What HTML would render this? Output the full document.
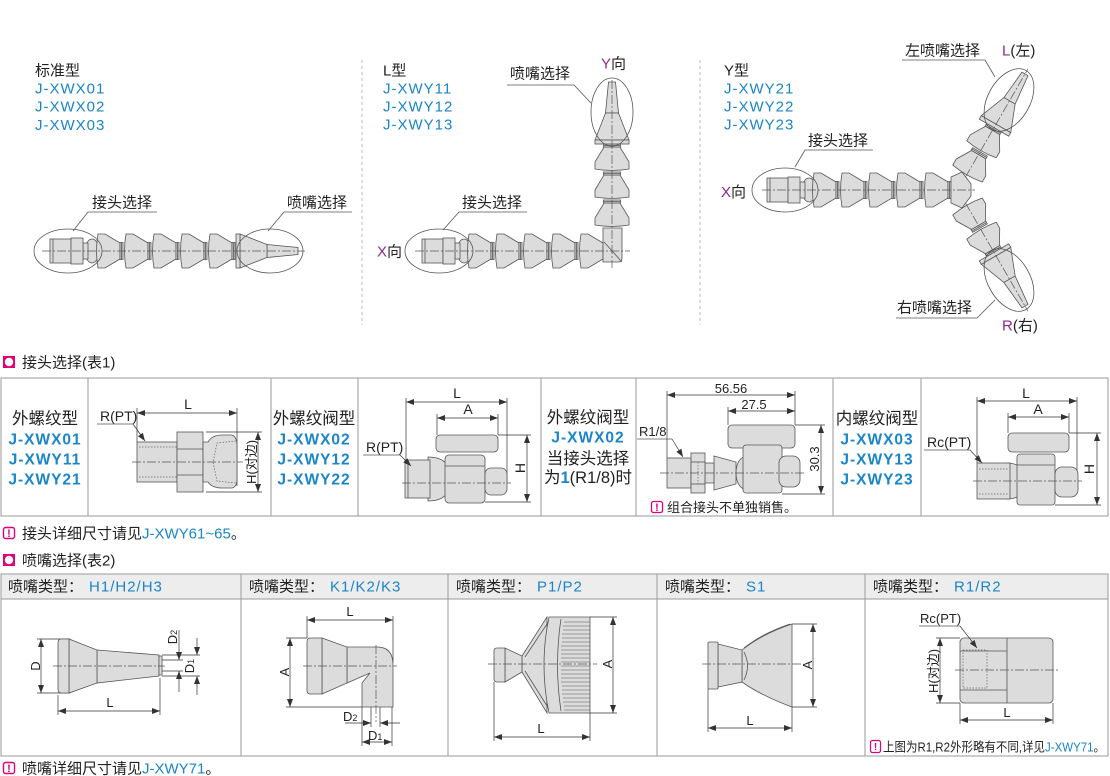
<!DOCTYPE html>
<html><head><meta charset="utf-8">
<style>
html,body{margin:0;padding:0;background:#fff;}
svg{display:block;}
text{font-family:"Liberation Sans","Noto Sans CJK SC",sans-serif;fill:#222;}
.p{fill:#dcdcdc;stroke:#555;stroke-width:.8;}
.n{fill:none;stroke:#555;stroke-width:.8;}
.cl{fill:none;stroke:#555;stroke-width:.7;stroke-dasharray:9 2 2 2;}
.d{fill:none;stroke:#333;stroke-width:.7;}
.da{fill:none;stroke:#333;stroke-width:.7;marker-start:url(#ar);marker-end:url(#ar);}
.de{fill:none;stroke:#333;stroke-width:.7;marker-end:url(#ar);}
.dot{fill:none;stroke:#666;stroke-width:.7;stroke-dasharray:1.5 1.5;}
.b{fill:#1a85c8;}
.pu{fill:#8e2a8a;}
.tb{fill:none;stroke:#9a9a9a;stroke-width:1;}
</style></head><body>
<svg width="1110" height="776" viewBox="0 0 1110 776" xmlns="http://www.w3.org/2000/svg">
<defs>
<marker id="ar" viewBox="0 0 8 6" refX="8" refY="3" markerWidth="8" markerHeight="6" orient="auto-start-reverse" markerUnits="userSpaceOnUse"><path d="M0,0 L8,3 L0,6 Z" fill="#333"/></marker>
<g id="seg">
 <path class="p" d="M3,-17 L10,-17 L25,-8 L25,8 L10,17 L3,17 Q0,0 3,-17 Z"/>
 <rect class="p" x="25" y="-8.5" width="3" height="17"/>
 <line class="n" x1="26.5" y1="-8.5" x2="26.5" y2="8.5"/>
</g>
<g id="noz">
 <path class="p" d="M31,-6.5 L62,-3.5 L62,3.5 L31,6.5 Z"/>
 <path class="p" d="M4,-17 L31,-6.5 L31,6.5 L4,17 Z"/>
 <rect class="p" x="0" y="-17" width="4" height="34"/>
</g>
<g id="con">
 <ellipse class="p" cx="42" cy="0" rx="7" ry="12"/>
 <rect class="p" x="33" y="-8" width="5" height="16"/>
 <rect class="p" x="0" y="-12" width="21" height="24"/>
 <line class="n" x1="3" y1="-12" x2="3" y2="12"/>
 <rect class="p" x="21" y="-13" width="12" height="26"/>
</g>
</defs>

<!-- ============ TOP: STANDARD ============ -->
<text x="35" y="75.5" font-size="15">标准型</text>
<text x="35" y="93.5" font-size="15" class="b" letter-spacing="1">J-XWX01</text>
<text x="35" y="111.5" font-size="15" class="b" letter-spacing="1">J-XWX02</text>
<text x="35" y="130" font-size="15" class="b" letter-spacing="1">J-XWX03</text>

<g transform="translate(50,251)">
 <use href="#con"/>
 <use href="#seg" x="45"/><use href="#seg" x="73"/><use href="#seg" x="101"/><use href="#seg" x="129"/><use href="#seg" x="157"/>
 <use href="#noz" x="186"/>
</g>
<line class="cl" x1="42" y1="251" x2="305" y2="251"/>
<ellipse class="n" cx="68" cy="251" rx="34" ry="22"/>
<ellipse class="n" cx="270" cy="251" rx="33" ry="22"/>
<text x="92" y="207.5" font-size="15">接头选择</text>
<polyline class="n" points="157,212 88,212 73,231"/>
<text x="287" y="207.5" font-size="15">喷嘴选择</text>
<polyline class="n" points="352,212 284,212 268,231"/>

<line x1="362" y1="60" x2="362" y2="325" stroke="#bbb" stroke-width="1" stroke-dasharray="3 3"/>
<line x1="700" y1="60" x2="700" y2="325" stroke="#bbb" stroke-width="1" stroke-dasharray="3 3"/>

<!-- ============ TOP: L TYPE ============ -->
<text x="383" y="75.5" font-size="15">L型</text>
<text x="383" y="93.5" font-size="15" class="b" letter-spacing="1">J-XWY11</text>
<text x="383" y="111.5" font-size="15" class="b" letter-spacing="1">J-XWY12</text>
<text x="383" y="129.5" font-size="15" class="b" letter-spacing="1">J-XWY13</text>

<g transform="translate(422,251)">
 <use href="#con"/>
 <use href="#seg" x="44"/><use href="#seg" x="72"/><use href="#seg" x="100"/><use href="#seg" x="128"/><use href="#seg" x="156"/>
</g>
<path class="p" d="M603,228 L622,228 L622,258 Q622,262 618,262 L603,262 Z"/>
<line class="n" x1="604" y1="242" x2="622" y2="262"/>
<g transform="translate(612,228) rotate(-90)">
 <use href="#seg" x="0"/><use href="#seg" x="28"/><use href="#seg" x="56"/>
 <use href="#noz" x="84"/>
</g>
<line class="cl" x1="415" y1="251" x2="630" y2="251"/>
<line class="cl" x1="612" y1="80" x2="612" y2="268"/>
<ellipse class="n" cx="439" cy="251" rx="34" ry="22"/>
<ellipse class="n" cx="612" cy="112" rx="21" ry="34"/>
<text x="601" y="68.5" font-size="15"><tspan class="pu">Y</tspan>向</text>
<text x="510" y="78.5" font-size="15">喷嘴选择</text>
<polyline class="n" points="507,85 574,85 591,103"/>
<text x="462" y="207.5" font-size="15">接头选择</text>
<polyline class="n" points="527,212 459,212 443,230"/>
<text x="377" y="256.5" font-size="15"><tspan class="pu">X</tspan>向</text>

<!-- ============ TOP: Y TYPE ============ -->
<text x="724" y="75.5" font-size="15">Y型</text>
<text x="724" y="93.5" font-size="15" class="b" letter-spacing="1">J-XWY21</text>
<text x="724" y="111.5" font-size="15" class="b" letter-spacing="1">J-XWY22</text>
<text x="724" y="129.5" font-size="15" class="b" letter-spacing="1">J-XWY23</text>

<g transform="translate(767,190)">
 <use href="#con"/>
 <use href="#seg" x="44"/><use href="#seg" x="72"/><use href="#seg" x="100"/><use href="#seg" x="128"/><use href="#seg" x="156"/>
</g>
<g transform="translate(958,190) rotate(-60)">
 <use href="#seg" x="16"/><use href="#seg" x="44"/><use href="#noz" x="72"/>
 <line class="cl" x1="0" y1="0" x2="140" y2="0"/>
</g>
<g transform="translate(958,190) rotate(60)">
 <use href="#seg" x="16"/><use href="#seg" x="44"/><use href="#noz" x="72"/>
 <line class="cl" x1="0" y1="0" x2="140" y2="0"/>
</g>
<path class="p" d="M951,177 L962,172 L971,184 L971,196 L962,208 L951,203 Z"/>
<line class="cl" x1="762" y1="190" x2="975" y2="190"/>
<ellipse class="n" cx="785" cy="190" rx="33" ry="22"/>
<ellipse class="n" cx="0" cy="0" rx="34" ry="21" transform="translate(1009,100) rotate(-60)"/>
<ellipse class="n" cx="0" cy="0" rx="34" ry="21" transform="translate(1009,280) rotate(60)"/>
<text x="905" y="55.5" font-size="15">左喷嘴选择</text>
<polyline class="n" points="902,60 985,60 995,77"/>
<text x="1002" y="55.5" font-size="15"><tspan class="pu">L</tspan>(左)</text>
<text x="808" y="145.5" font-size="15">接头选择</text>
<polyline class="n" points="873,150 805,150 795,167"/>
<text x="721" y="197" font-size="15"><tspan class="pu">X</tspan>向</text>
<text x="897" y="312.5" font-size="15">右喷嘴选择</text>
<polyline class="n" points="896,318 977,318 995,300"/>
<text x="1002" y="330.5" font-size="15"><tspan class="pu">R</tspan>(右)</text>

<!-- ============ TABLE 1 ============ -->
<rect x="3" y="356" width="12" height="12" fill="#e0007a"/>
<circle cx="9" cy="362" r="4.2" fill="#fff"/>
<text x="22" y="367.5" font-size="15">接头选择(表1)</text>

<rect class="tb" x="1" y="378" width="1107" height="138"/>
<line class="tb" x1="88" y1="378" x2="88" y2="516"/>
<line class="tb" x1="271" y1="378" x2="271" y2="516"/>
<line class="tb" x1="358" y1="378" x2="358" y2="516"/>
<line class="tb" x1="541" y1="378" x2="541" y2="516"/>
<line class="tb" x1="636" y1="378" x2="636" y2="516"/>
<line class="tb" x1="833" y1="378" x2="833" y2="516"/>
<line class="tb" x1="921" y1="378" x2="921" y2="516"/>

<g text-anchor="middle">
 <text x="45" y="424" font-size="16.5">外螺纹型</text>
 <text x="45" y="444.5" font-size="15.5" font-weight="bold" class="b" letter-spacing="1">J-XWX01</text>
 <text x="45" y="464.5" font-size="15.5" font-weight="bold" class="b" letter-spacing="1">J-XWY11</text>
 <text x="45" y="484.5" font-size="15.5" font-weight="bold" class="b" letter-spacing="1">J-XWY21</text>

 <text x="314" y="424" font-size="16.5">外螺纹阀型</text>
 <text x="314" y="444.5" font-size="15.5" font-weight="bold" class="b" letter-spacing="1">J-XWX02</text>
 <text x="314" y="464.5" font-size="15.5" font-weight="bold" class="b" letter-spacing="1">J-XWY12</text>
 <text x="314" y="484.5" font-size="15.5" font-weight="bold" class="b" letter-spacing="1">J-XWY22</text>

 <text x="588" y="423" font-size="16.5">外螺纹阀型</text>
 <text x="588" y="442.5" font-size="15.5" font-weight="bold" class="b" letter-spacing="1">J-XWX02</text>
 <text x="588" y="464" font-size="16.5">当接头选择</text>
 <text x="588" y="483" font-size="16.5">为<tspan class="b" font-weight="bold">1</tspan>(R1/8)时</text>

 <text x="877" y="424" font-size="16.5">内螺纹阀型</text>
 <text x="877" y="444.5" font-size="15.5" font-weight="bold" class="b" letter-spacing="1">J-XWX03</text>
 <text x="877" y="464.5" font-size="15.5" font-weight="bold" class="b" letter-spacing="1">J-XWY13</text>
 <text x="877" y="484.5" font-size="15.5" font-weight="bold" class="b" letter-spacing="1">J-XWY23</text>
</g>

<!-- cell 2 drawing -->
<line class="d" x1="137" y1="408" x2="137" y2="442"/>
<line class="d" x1="237" y1="408" x2="237" y2="486"/>
<line class="da" x1="137" y1="413" x2="237" y2="413"/>
<text x="188" y="409" font-size="14" text-anchor="middle">L</text>
<rect class="p" x="137" y="442" width="40" height="40"/>
<line class="dot" x1="139" y1="447" x2="177" y2="447"/>
<line class="dot" x1="139" y1="477" x2="177" y2="477"/>
<rect class="p" x="177" y="432" width="26" height="60"/>
<line class="n" x1="177" y1="449" x2="203" y2="449"/>
<line class="n" x1="177" y1="475" x2="203" y2="475"/>
<path class="p" d="M203,442 L208,442 Q212,435 222,435 L232,435 Q237,437 237,445 L237,479 Q237,487 232,488 L222,488 Q212,488 208,482 L203,482 Z"/>
<polyline class="dot" points="236,441 217,443 213,462 217,481 236,483"/>
<line class="cl" x1="132" y1="462" x2="243" y2="462"/>
<line class="d" x1="206" y1="432" x2="262" y2="432"/>
<line class="d" x1="206" y1="492" x2="262" y2="492"/>
<line class="da" x1="258" y1="432" x2="258" y2="492"/>
<text font-size="13" text-anchor="middle" transform="translate(256,462) rotate(-90)">H(对边)</text>
<text x="100" y="421" font-size="14">R(PT)</text>
<line class="n" x1="97" y1="424" x2="133" y2="424"/>
<line class="de" x1="133" y1="424" x2="145" y2="441"/>

<!-- cell 4 drawing -->
<line class="d" x1="406" y1="398" x2="406" y2="460"/>
<line class="d" x1="507" y1="398" x2="507" y2="482"/>
<line class="da" x1="406" y1="402" x2="507" y2="402"/>
<text x="457" y="398" font-size="14" text-anchor="middle">L</text>
<line class="d" x1="437" y1="414" x2="437" y2="435"/>
<line class="d" x1="498" y1="414" x2="498" y2="435"/>
<line class="da" x1="437" y1="418" x2="498" y2="418"/>
<text x="468" y="414" font-size="14" text-anchor="middle">A</text>
<rect class="p" x="436" y="435" width="62" height="17" rx="4"/>
<path class="p" d="M428,457 Q451,457 451,479 Q451,501 428,501 Z"/>
<rect class="p" x="405" y="460" width="25" height="38"/>
<line class="n" x1="408" y1="460" x2="408" y2="498"/>
<rect class="p" x="445" y="455" width="40" height="48" rx="4"/>
<line class="n" x1="445" y1="466" x2="485" y2="466"/>
<rect class="p" x="485" y="468" width="22" height="27" rx="6"/>
<line class="cl" x1="402" y1="483" x2="511" y2="483"/>
<line class="d" x1="498" y1="435" x2="531" y2="435"/>
<line class="d" x1="485" y1="502" x2="531" y2="502"/>
<line class="da" x1="527" y1="435" x2="527" y2="502"/>
<text font-size="14" text-anchor="middle" transform="translate(525,468) rotate(-90)">H</text>
<text x="366" y="452" font-size="14">R(PT)</text>
<line class="n" x1="363" y1="455" x2="400" y2="455"/>
<line class="de" x1="400" y1="455" x2="411" y2="466"/>

<!-- cell 6 drawing -->
<line class="d" x1="667" y1="391" x2="667" y2="458"/>
<line class="d" x1="795" y1="391" x2="795" y2="425"/>
<line class="da" x1="667" y1="395" x2="795" y2="395"/>
<text x="731" y="393" font-size="13" text-anchor="middle">56.56</text>
<line class="d" x1="728" y1="407" x2="728" y2="425"/>
<line class="da" x1="728" y1="411" x2="795" y2="411"/>
<text x="754" y="409" font-size="13" text-anchor="middle">27.5</text>
<rect class="p" x="728" y="425" width="67" height="23" rx="4"/>
<ellipse class="p" cx="745" cy="473" rx="9" ry="16"/>
<path class="p" d="M714,456 L736,462 L736,484 L714,490 Z"/>
<rect class="p" x="705" y="463" width="9" height="20"/>
<rect class="p" x="667" y="458" width="24" height="30"/>
<rect class="p" x="691" y="453" width="14" height="40"/>
<line class="n" x1="691" y1="462" x2="705" y2="462"/>
<line class="n" x1="691" y1="484" x2="705" y2="484"/>
<line class="dot" x1="698" y1="462" x2="698" y2="484"/>
<rect class="p" x="743" y="445" width="39" height="48" rx="3"/>
<rect class="p" x="779" y="456" width="21" height="31" rx="7"/>
<line class="cl" x1="660" y1="473" x2="806" y2="473"/>
<line class="d" x1="795" y1="425" x2="825" y2="425"/>
<line class="d" x1="782" y1="494" x2="825" y2="494"/>
<line class="da" x1="821" y1="425" x2="821" y2="494"/>
<text font-size="13" text-anchor="middle" transform="translate(819,459) rotate(-90)">30.3</text>
<text x="639" y="436" font-size="13">R1/8</text>
<line class="n" x1="637" y1="439" x2="672" y2="439"/>
<line class="de" x1="672" y1="439" x2="683" y2="457"/>
<rect x="651.5" y="501.5" width="11" height="11" rx="2" fill="#fff" stroke="#e0007a" stroke-width="1.3"/>
<text x="657" y="511" font-size="11" font-weight="bold" text-anchor="middle" style="fill:#e0007a">!</text>
<text x="667" y="512" font-size="13">组合接头不单独销售。</text>

<!-- cell 8 drawing -->
<line class="d" x1="977" y1="397" x2="977" y2="463"/>
<line class="d" x1="1077" y1="397" x2="1077" y2="470"/>
<line class="da" x1="977" y1="401" x2="1077" y2="401"/>
<text x="1026" y="398" font-size="14" text-anchor="middle">L</text>
<line class="d" x1="1008" y1="413" x2="1008" y2="433"/>
<line class="d" x1="1069" y1="413" x2="1069" y2="433"/>
<line class="da" x1="1008" y1="417" x2="1069" y2="417"/>
<text x="1038" y="414" font-size="14" text-anchor="middle">A</text>
<rect class="p" x="1008" y="433" width="61" height="19" rx="4"/>
<path class="p" d="M1006,463 Q1026,463 1026,481 Q1026,499 1006,499 Z"/>
<rect class="p" x="977" y="463" width="33" height="36"/>
<line class="dot" x1="979" y1="469" x2="1009" y2="469"/>
<line class="dot" x1="979" y1="494" x2="1009" y2="494"/>
<rect class="p" x="1017" y="454" width="38" height="51" rx="3"/>
<line class="n" x1="1017" y1="465" x2="1055" y2="465"/>
<rect class="p" x="1055" y="467" width="23" height="30" rx="7"/>
<line class="cl" x1="973" y1="481" x2="1082" y2="481"/>
<line class="d" x1="1069" y1="433" x2="1101" y2="433"/>
<line class="d" x1="1055" y1="505" x2="1101" y2="505"/>
<line class="da" x1="1097" y1="433" x2="1097" y2="505"/>
<text font-size="14" text-anchor="middle" transform="translate(1094,469) rotate(-90)">H</text>
<text x="927" y="447" font-size="14">Rc(PT)</text>
<line class="n" x1="924" y1="450" x2="970" y2="450"/>
<line class="de" x1="970" y1="450" x2="982" y2="463"/>

<!-- footer 1 -->
<rect x="3.5" y="527.5" width="11" height="11" rx="2" fill="#fff" stroke="#e0007a" stroke-width="1.4"/>
<text x="9" y="537" font-size="11" font-weight="bold" text-anchor="middle" style="fill:#e0007a">!</text>
<text x="22" y="538.5" font-size="15">接头详细尺寸请见<tspan class="b">J-XWY61~65</tspan>。</text>

<!-- ============ TABLE 2 ============ -->
<rect x="3" y="554" width="12" height="12" fill="#e0007a"/>
<circle cx="9" cy="560" r="4.2" fill="#fff"/>
<text x="22" y="565.5" font-size="15">喷嘴选择(表2)</text>

<rect x="1" y="574" width="1107" height="25" fill="#ededed"/>
<rect class="tb" x="1" y="574" width="1107" height="182"/>
<line class="tb" x1="1" y1="599" x2="1108" y2="599"/>
<line class="tb" x1="241" y1="574" x2="241" y2="756"/>
<line class="tb" x1="448" y1="574" x2="448" y2="756"/>
<line class="tb" x1="657" y1="574" x2="657" y2="756"/>
<line class="tb" x1="865" y1="574" x2="865" y2="756"/>

<text x="8" y="591.5" font-size="15">喷嘴类型：<tspan class="b" dx="6" letter-spacing="1">H1/H2/H3</tspan></text>
<text x="249" y="591.5" font-size="15">喷嘴类型：<tspan class="b" dx="6" letter-spacing="1">K1/K2/K3</tspan></text>
<text x="456" y="591.5" font-size="15">喷嘴类型：<tspan class="b" dx="6" letter-spacing="1">P1/P2</tspan></text>
<text x="665" y="591.5" font-size="15">喷嘴类型：<tspan class="b" dx="6" letter-spacing="1">S1</tspan></text>
<text x="873" y="591.5" font-size="15">喷嘴类型：<tspan class="b" dx="6" letter-spacing="1">R1/R2</tspan></text>

<!-- col1 H -->
<line class="d" x1="37" y1="639" x2="70" y2="639"/>
<line class="d" x1="37" y1="693" x2="70" y2="693"/>
<line class="da" x1="41" y1="639" x2="41" y2="693"/>
<text font-size="13" text-anchor="middle" transform="translate(40,666) rotate(-90)">D</text>
<path class="p" d="M97,650 L159,655 L159,676 L97,683 Z"/>
<path class="p" d="M69,639 L97,650 L97,683 L69,693 Z"/>
<path class="p" d="M61,639 L69,639 L69,693 L61,693 Q58,693 58,689 L58,643 Q58,639 61,639 Z"/>
<rect class="p" x="159" y="656" width="3" height="19"/>
<line class="cl" x1="53" y1="666" x2="165" y2="666"/>
<line class="d" x1="58" y1="695" x2="58" y2="715"/>
<line class="d" x1="160" y1="678" x2="160" y2="715"/>
<line class="da" x1="58" y1="711" x2="160" y2="711"/>
<text x="110" y="707" font-size="13" text-anchor="middle">L</text>
<line class="d" x1="162" y1="655" x2="200" y2="655"/>
<line class="d" x1="162" y1="676" x2="200" y2="676"/>
<line class="d" x1="162" y1="660" x2="183" y2="660"/>
<line class="d" x1="162" y1="671" x2="183" y2="671"/>
<line class="de" x1="179" y1="630" x2="179" y2="660"/>
<line class="de" x1="179" y1="692" x2="179" y2="671"/>
<text font-size="13" text-anchor="middle" transform="translate(177,637) rotate(-90)">D<tspan font-size="9">2</tspan></text>
<line class="de" x1="197" y1="638" x2="197" y2="655"/>
<line class="de" x1="197" y1="695" x2="197" y2="676"/>
<text font-size="13" text-anchor="middle" transform="translate(194,666) rotate(-90)">D<tspan font-size="9">1</tspan></text>

<!-- col2 K -->
<line class="d" x1="307" y1="616" x2="307" y2="638"/>
<line class="d" x1="393" y1="616" x2="393" y2="663"/>
<line class="da" x1="307" y1="620" x2="393" y2="620"/>
<text x="350" y="616" font-size="13" text-anchor="middle">L</text>
<line class="d" x1="286" y1="638" x2="307" y2="638"/>
<line class="d" x1="286" y1="707" x2="363" y2="707"/>
<line class="da" x1="290" y1="638" x2="290" y2="707"/>
<text font-size="13" text-anchor="middle" transform="translate(289,672) rotate(-90)">A</text>
<path class="p" d="M347,647 L377,647 Q393,647 393,665 L393,707 L362,707 L362,683 L370,673 L347,683 Z"/>
<path class="p" d="M322,638 L347,647 L347,683 L322,694 Z"/>
<path class="p" d="M310,638 L322,638 L322,694 L310,694 Q307,694 307,690 L307,642 Q307,638 310,638 Z"/>
<line class="cl" x1="303" y1="666" x2="397" y2="666"/>
<line class="cl" x1="376" y1="645" x2="376" y2="722"/>
<line class="d" x1="362" y1="707" x2="362" y2="746"/>
<line class="d" x1="392" y1="707" x2="392" y2="746"/>
<line class="d" x1="371" y1="707" x2="371" y2="727"/>
<line class="d" x1="380" y1="707" x2="380" y2="727"/>
<line class="de" x1="345" y1="723" x2="371" y2="723"/>
<line class="de" x1="400" y1="723" x2="380" y2="723"/>
<text x="343" y="721" font-size="13">D<tspan font-size="9">2</tspan></text>
<line class="da" x1="362" y1="742" x2="392" y2="742"/>
<text x="368" y="740" font-size="13">D<tspan font-size="9">1</tspan></text>

<!-- col3 P -->
<path class="p" d="M522,656 L547,617 L547,713 L522,672 Z"/>
<line class="n" x1="525" y1="657" x2="549" y2="621"/>
<line class="n" x1="525" y1="671" x2="549" y2="709"/>
<path class="p" d="M505,648 L522,656 L522,672 L505,682 Z"/>
<path class="p" d="M497,648 L505,648 L505,682 L497,682 Q494,682 494,679 L494,651 Q494,648 497,648 Z"/>
<path class="p" d="M549,617 L590,617 L590,713 L549,713 Q539,665 549,617 Z"/>
<path class="n" d="M561,619 Q554,665 561,711"/>
<g stroke="#555" stroke-width=".6">
<line x1="564" y1="622" x2="590" y2="622"/><line x1="563" y1="626" x2="590" y2="626"/><line x1="563" y1="630" x2="590" y2="630"/><line x1="562" y1="634" x2="590" y2="634"/><line x1="562" y1="638" x2="590" y2="638"/><line x1="562" y1="642" x2="590" y2="642"/><line x1="561" y1="646" x2="590" y2="646"/><line x1="561" y1="650" x2="590" y2="650"/><line x1="561" y1="654" x2="590" y2="654"/><line x1="561" y1="658" x2="590" y2="658"/><line x1="561" y1="662" x2="590" y2="662"/><line x1="561" y1="666" x2="590" y2="666"/><line x1="561" y1="670" x2="590" y2="670"/><line x1="561" y1="674" x2="590" y2="674"/><line x1="561" y1="678" x2="590" y2="678"/><line x1="561" y1="682" x2="590" y2="682"/><line x1="562" y1="686" x2="590" y2="686"/><line x1="562" y1="690" x2="590" y2="690"/><line x1="562" y1="694" x2="590" y2="694"/><line x1="563" y1="698" x2="590" y2="698"/><line x1="563" y1="702" x2="590" y2="702"/><line x1="564" y1="706" x2="590" y2="706"/><line x1="564" y1="710" x2="590" y2="710"/>
</g>
<line class="cl" x1="488" y1="664" x2="597" y2="664"/>
<line class="d" x1="590" y1="617" x2="617" y2="617"/>
<line class="d" x1="590" y1="713" x2="617" y2="713"/>
<line class="da" x1="613" y1="617" x2="613" y2="713"/>
<text font-size="13" text-anchor="middle" transform="translate(612,664) rotate(-90)">A</text>
<line class="d" x1="494" y1="682" x2="494" y2="741"/>
<line class="d" x1="590" y1="713" x2="590" y2="741"/>
<line class="da" x1="494" y1="737" x2="590" y2="737"/>
<text x="541" y="733" font-size="13" text-anchor="middle">L</text>

<!-- col4 S -->
<path class="p" d="M742,650 Q762,634 792,624 L792,707 Q762,696 742,682 Z"/>
<path class="n" d="M744,648 Q763,633 790,624"/>
<path class="n" d="M744,652 Q751,666 744,680"/>
<path class="p" d="M718,644 L742,650 L742,682 L718,687 Z"/>
<rect class="p" x="708" y="642" width="10" height="47" rx="1"/>
<line class="cl" x1="702" y1="664" x2="802" y2="664"/>
<line class="d" x1="792" y1="624" x2="817" y2="624"/>
<line class="d" x1="792" y1="707" x2="817" y2="707"/>
<line class="da" x1="813" y1="624" x2="813" y2="707"/>
<text font-size="13" text-anchor="middle" transform="translate(812,665) rotate(-90)">A</text>
<line class="d" x1="708" y1="689" x2="708" y2="732"/>
<line class="d" x1="792" y1="707" x2="792" y2="732"/>
<line class="da" x1="708" y1="728" x2="792" y2="728"/>
<text x="750" y="725" font-size="13" text-anchor="middle">L</text>

<!-- col5 R -->
<rect class="p" x="960" y="638" width="93" height="65" rx="4"/>
<line class="n" x1="1007" y1="638" x2="1007" y2="703"/>
<line class="n" x1="960" y1="651" x2="1007" y2="651"/>
<line class="n" x1="960" y1="690" x2="1007" y2="690"/>
<rect x="963" y="650" width="24" height="38" fill="none" stroke="#666" stroke-width=".7" stroke-dasharray="1.5 1.5"/>
<line class="cl" x1="955" y1="670" x2="1059" y2="670"/>
<line class="d" x1="936" y1="638" x2="960" y2="638"/>
<line class="d" x1="936" y1="703" x2="960" y2="703"/>
<line class="da" x1="940" y1="638" x2="940" y2="703"/>
<text font-size="13" text-anchor="middle" transform="translate(938,671) rotate(-90)">H(对边)</text>
<line class="d" x1="960" y1="703" x2="960" y2="724"/>
<line class="d" x1="1053" y1="703" x2="1053" y2="724"/>
<line class="da" x1="960" y1="720" x2="1053" y2="720"/>
<text x="1007" y="717" font-size="13" text-anchor="middle">L</text>
<text x="920" y="623" font-size="13">Rc(PT)</text>
<line class="n" x1="919" y1="626" x2="960" y2="626"/>
<line class="de" x1="960" y1="626" x2="977" y2="648"/>
<rect x="870.5" y="740.5" width="10" height="12" rx="2" fill="#fff" stroke="#e0007a" stroke-width="1.2"/>
<text x="875.5" y="750" font-size="10" font-weight="bold" text-anchor="middle" style="fill:#e0007a">!</text>
<text x="883" y="751.5" font-size="13" textLength="222" lengthAdjust="spacingAndGlyphs">上图为R1,R2外形略有不同,详见<tspan class="b">J-XWY71</tspan>。</text>

<!-- footer 2 -->
<rect x="3.5" y="762.5" width="11" height="11" rx="2" fill="#fff" stroke="#e0007a" stroke-width="1.4"/>
<text x="9" y="772" font-size="11" font-weight="bold" text-anchor="middle" style="fill:#e0007a">!</text>
<text x="22" y="773.5" font-size="15">喷嘴详细尺寸请见<tspan class="b">J-XWY71</tspan>。</text>
</svg>
</body></html>
